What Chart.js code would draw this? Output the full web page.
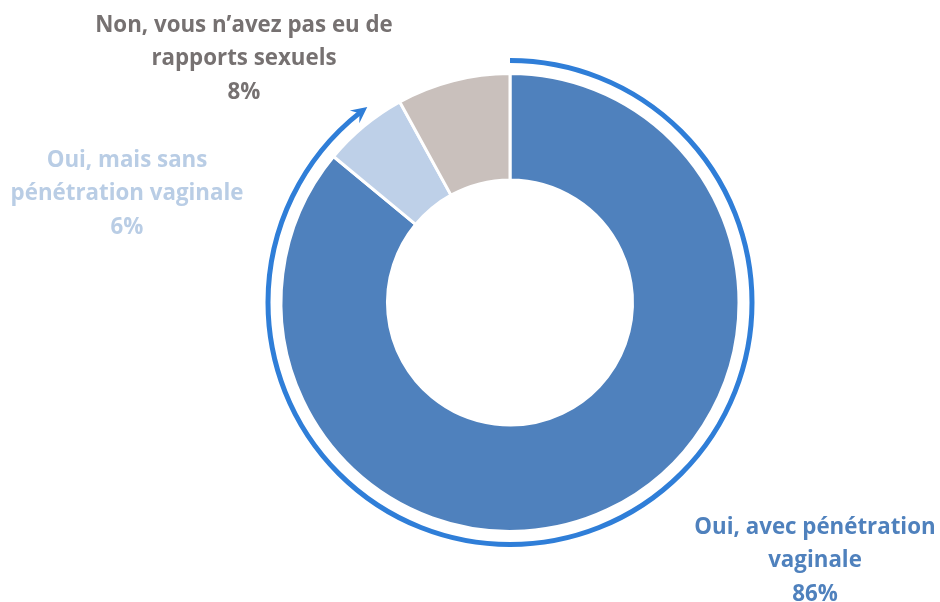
<!DOCTYPE html>
<html>
<head>
<meta charset="utf-8">
<script src="https://cdn.jsdelivr.net/npm/chart.js@4"></script>
<style>
  html, body { margin: 0; padding: 0; background: #fff; }
  #wrap { width: 940px; height: 602px; }
</style>
</head>
<body>
<div id="wrap"><canvas id="chart"></canvas></div>
<script>
const labels = [
  ['Oui, avec pénétration', 'vaginale'],
  ['Oui, mais sans', 'pénétration vaginale'],
  ['Non, vous n’avez pas eu de', 'rapports sexuels']
];
const values = [86, 6, 8];
const sliceColors = ['#4F81BD', '#BED0E8', '#C9C0BC'];
const labelColors = ['#4F81BD', '#B9CDE5', '#767171'];

// label anchors relative to the doughnut centre (x, y of first line)
const labelOffsets = [[305, 225], [-383, -142], [-266, -277]];

const labelPlugin = {
  id: 'sliceLabels',
  afterDatasetsDraw(chart) {
    const ctx = chart.ctx;
    const arc = chart.getDatasetMeta(0).data[0];
    const cx = arc.x, cy = arc.y;
    ctx.save();
    ctx.font = 'bold 22.3px "Open Sans"';
    ctx.textAlign = 'center';
    ctx.textBaseline = 'middle';
    labels.forEach((lines, i) => {
      ctx.fillStyle = labelColors[i];
      const x = cx + labelOffsets[i][0];
      let y = cy + labelOffsets[i][1];
      const all = lines.concat([values[i] + '%']);
      all.forEach((t, k) => ctx.fillText(t, x, y + k * 33.5));
    });
    ctx.restore();
  }
};

const arrowPlugin = {
  id: 'arrowArc',
  afterDatasetsDraw(chart) {
    const ctx = chart.ctx;
    const arcs = chart.getDatasetMeta(0).data;
    const a0 = arcs[0], a1 = arcs[1];
    const r = a0.outerRadius + 13;
    const start = a0.startAngle;
    const tip = a1.startAngle + 0.66 * (a1.endAngle - a1.startAngle);
    const headLen = 14;
    const lineEnd = tip - headLen * 0.6 / r;
    ctx.save();
    ctx.strokeStyle = '#2F7ED8';
    ctx.fillStyle = '#2F7ED8';
    ctx.lineWidth = 5;
    ctx.beginPath();
    ctx.arc(a0.x, a0.y, r, start, lineEnd);
    ctx.stroke();
    // arrow head
    const tx = a0.x + r * Math.cos(tip), ty = a0.y + r * Math.sin(tip);
    const dir = tip + Math.PI / 2; // tangent direction (clockwise)
    const back = tip - headLen / r;
    const bx = a0.x + r * Math.cos(back), by = a0.y + r * Math.sin(back);
    const ux = Math.cos(dir), uy = Math.sin(dir);
    const nx = -uy, ny = ux;
    ctx.beginPath();
    ctx.moveTo(tx, ty);
    ctx.lineTo(bx + nx * 8 - ux * 2, by + ny * 8 - uy * 2);
    ctx.lineTo(bx + ux * 4, by + uy * 4);
    ctx.lineTo(bx - nx * 8 - ux * 2, by - ny * 8 - uy * 2);
    ctx.closePath();
    ctx.fill();
    ctx.restore();
  }
};

new Chart(document.getElementById('chart'), {
  type: 'doughnut',
  data: {
    labels: labels.map(l => l.join(' ')),
    datasets: [{
      data: values,
      backgroundColor: sliceColors,
      borderColor: '#ffffff',
      borderWidth: 3,
      hoverOffset: 0
    }]
  },
  options: {
    responsive: true,
    maintainAspectRatio: false,
    animation: false,
    cutout: '53.5%',
    rotation: 0,
    layout: { padding: { top: 72, bottom: 69, left: 100, right: 20 } },
    plugins: {
      legend: { display: false },
      tooltip: { enabled: false }
    },
    events: []
  },
  plugins: [arrowPlugin, labelPlugin]
});
</script>
</body>
</html>
